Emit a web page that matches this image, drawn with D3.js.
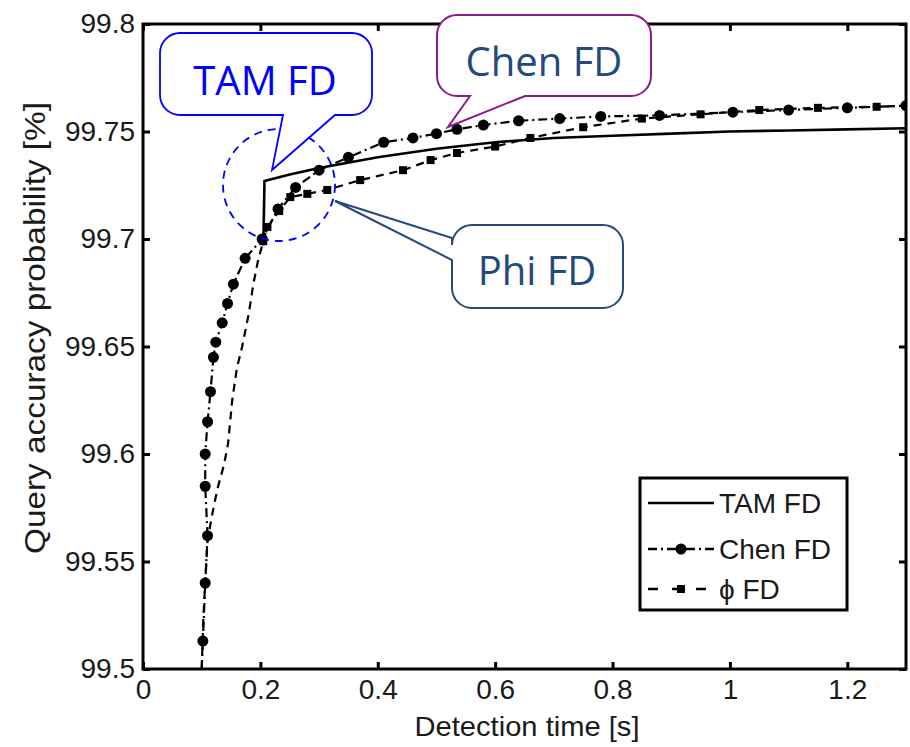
<!DOCTYPE html>
<html>
<head>
<meta charset="UTF-8">
<script src="https://d3js.org/d3.v7.min.js"></script>
<style>
    body { margin: 0; background: #fff; }
    svg text { font-family: "Liberation Sans", Arial, sans-serif; }
    .bubble text { font-family: "Open Sans", "DejaVu Sans", sans-serif; }
</style>
</head>
<body>
<svg id="chart" width="910" height="747"></svg>
<script>
// axis ticks
const xTicks = [0, 0.2, 0.4, 0.6, 0.8, 1, 1.2];
const yTicks = [99.5, 99.55, 99.6, 99.65, 99.7, 99.75, 99.8];

// [detection time s, query accuracy %]
const tamData = [
    [0.205, 99.697], [0.207, 99.727], [0.25, 99.730], [0.30, 99.733], [0.40, 99.738],
    [0.50, 99.742], [0.60, 99.745], [0.70, 99.747], [0.80, 99.748], [0.90, 99.749],
    [1.00, 99.750], [1.10, 99.7505], [1.20, 99.751], [1.30, 99.7515]
];
const chenData = [
    [0.100, 99.500], [0.102, 99.513], [0.106, 99.540], [0.110, 99.562], [0.106, 99.585],
    [0.106, 99.600], [0.110, 99.615], [0.115, 99.629], [0.120, 99.645], [0.124, 99.652],
    [0.135, 99.661], [0.144, 99.670], [0.154, 99.679], [0.174, 99.691], [0.203, 99.700],
    [0.230, 99.714], [0.260, 99.724], [0.300, 99.732], [0.350, 99.738], [0.410, 99.745],
    [0.460, 99.747], [0.500, 99.749], [0.535, 99.751], [0.580, 99.753], [0.640, 99.755],
    [0.710, 99.756], [0.780, 99.757], [0.880, 99.7575], [1.005, 99.759], [1.100, 99.760],
    [1.200, 99.761], [1.300, 99.762]
];
const phiData = [
    [0.100, 99.500], [0.103, 99.525], [0.110, 99.560], [0.118, 99.572], [0.127, 99.584],
    [0.138, 99.595], [0.145, 99.605], [0.152, 99.625], [0.160, 99.640], [0.169, 99.650],
    [0.180, 99.665], [0.188, 99.679], [0.196, 99.690], [0.205, 99.699], [0.212, 99.7056],
    [0.232, 99.713], [0.251, 99.7195], [0.280, 99.721], [0.314, 99.7228], [0.370, 99.7274],
    [0.443, 99.732], [0.490, 99.7367], [0.535, 99.740], [0.600, 99.743], [0.660, 99.747],
    [0.750, 99.752], [0.850, 99.756], [0.950, 99.758], [1.050, 99.760], [1.150, 99.761],
    [1.250, 99.7615], [1.300, 99.762]
];
const seriesNames = ["TAM FD", "Chen FD", "\u03d5 FD"];

const svg = d3.select('#chart');
const pLeft = 143, pRight = 906, pTop = 24, pBottom = 669;

const x = d3.scaleLinear().domain([0, 1.3]).range([pLeft, pRight]);
const y = d3.scaleLinear().domain([99.5, 99.8]).range([pBottom, pTop]);

svg.append('clipPath').attr('id', 'plotClip')
    .append('rect').attr('x', pLeft).attr('y', pTop)
    .attr('width', pRight - pLeft).attr('height', pBottom - pTop);

// axes, ticks pointing inward on all four sides
function styleAxis(g) {
    g.select('.domain').remove();
    g.selectAll('.tick line').attr('stroke', '#000').attr('stroke-width', 3);
    g.selectAll('.tick text').attr('font-size', 28).attr('fill', '#1a1a1a');
}
svg.append('g').attr('transform', 'translate(0,' + pBottom + ')')
    .call(d3.axisBottom(x).tickValues(xTicks).tickSize(-7).tickPadding(10).tickFormat(d3.format('')))
    .call(styleAxis);
svg.append('g').attr('transform', 'translate(0,' + pTop + ')')
    .call(d3.axisTop(x).tickValues(xTicks).tickSize(-7).tickFormat(''))
    .call(styleAxis);
svg.append('g').attr('transform', 'translate(' + pLeft + ',0)')
    .call(d3.axisLeft(y).tickValues(yTicks).tickSize(-7).tickPadding(8).tickFormat(d3.format('')))
    .call(styleAxis);
svg.append('g').attr('transform', 'translate(' + pRight + ',0)')
    .call(d3.axisRight(y).tickValues(yTicks).tickSize(-7).tickFormat(''))
    .call(styleAxis);

svg.append('rect')
    .attr('x', pLeft).attr('y', pTop)
    .attr('width', pRight - pLeft).attr('height', pBottom - pTop)
    .attr('fill', 'none').attr('stroke', '#000').attr('stroke-width', 3);

svg.append('text')
    .attr('x', 527).attr('y', 736)
    .attr('text-anchor', 'middle').attr('font-size', 28).attr('fill', '#1a1a1a')
    .attr('textLength', 225).attr('lengthAdjust', 'spacingAndGlyphs')
    .text('Detection time [s]');
svg.append('text')
    .attr('transform', 'translate(45,' + 328 + ') rotate(-90)')
    .attr('text-anchor', 'middle').attr('font-size', 29).attr('fill', '#1a1a1a')
    .attr('textLength', 452).attr('lengthAdjust', 'spacingAndGlyphs')
    .text('Query accuracy probability [%]');

// curves
const line = d3.line().x(d => x(d[0])).y(d => y(d[1]));
const plot = svg.append('g').attr('clip-path', 'url(#plotClip)');

plot.append('path').datum(tamData).attr('d', line)
    .attr('fill', 'none').attr('stroke', '#000').attr('stroke-width', 2.6);
plot.append('path').datum(chenData).attr('d', line)
    .attr('fill', 'none').attr('stroke', '#000').attr('stroke-width', 2.2)
    .attr('stroke-dasharray', '9,4,2,4');
plot.append('path').datum(phiData).attr('d', line)
    .attr('fill', 'none').attr('stroke', '#000').attr('stroke-width', 2.2)
    .attr('stroke-dasharray', '8,6');

plot.selectAll('.chenMark')
    .data(chenData.slice(1))
    .enter().append('circle')
    .attr('class', 'chenMark')
    .attr('cx', d => x(d[0])).attr('cy', d => y(d[1]))
    .attr('r', 5.5).attr('fill', '#000');
plot.selectAll('.phiMark')
    .data(phiData.filter(d => d[0] >= 0.2))
    .enter().append('rect')
    .attr('class', 'phiMark')
    .attr('x', d => x(d[0]) - 4).attr('y', d => y(d[1]) - 4)
    .attr('width', 8).attr('height', 8).attr('fill', '#000');

// legend
const lg = svg.append('g');
lg.append('rect').attr('x', 640).attr('y', 478).attr('width', 207).attr('height', 132)
    .attr('fill', '#fff').attr('stroke', '#000').attr('stroke-width', 3);
const legRows = [503, 549, 589];
const legDash = [null, '9,4,2,4', '10,14'];
seriesNames.forEach((name, i) => {
    lg.append('line')
        .attr('x1', 648).attr('x2', 714).attr('y1', legRows[i]).attr('y2', legRows[i])
        .attr('stroke', '#000').attr('stroke-width', 2.4)
        .attr('stroke-dasharray', legDash[i]);
    if (i === 1) {
        lg.append('circle').attr('cx', 681).attr('cy', legRows[i]).attr('r', 5.5).attr('fill', '#000');
    }
    if (i === 2) {
        lg.append('rect').attr('x', 677).attr('y', legRows[i] - 4).attr('width', 8).attr('height', 8).attr('fill', '#000');
    }
    lg.append('text')
        .attr('x', 719).attr('y', legRows[i] + 10)
        .attr('font-size', 28).attr('fill', '#1a1a1a')
        .text(name);
});

// callouts
function bubbleBottom(x0, y0, w, h, r, a, tip, b) {
    return `M${x0 + r},${y0} H${x0 + w - r} A${r},${r} 0 0 1 ${x0 + w},${y0 + r}
        V${y0 + h - r} A${r},${r} 0 0 1 ${x0 + w - r},${y0 + h} H${b}
        L${tip[0]},${tip[1]} L${a},${y0 + h} H${x0 + r}
        A${r},${r} 0 0 1 ${x0},${y0 + h - r} V${y0 + r} A${r},${r} 0 0 1 ${x0 + r},${y0} Z`;
}
function bubbleLeft(x0, y0, w, h, r, a, tip, b) {
    return `M${x0 + r},${y0} H${x0 + w - r} A${r},${r} 0 0 1 ${x0 + w},${y0 + r}
        V${y0 + h - r} A${r},${r} 0 0 1 ${x0 + w - r},${y0 + h} H${x0 + r}
        A${r},${r} 0 0 1 ${x0},${y0 + h - r} V${b} L${tip[0]},${tip[1]} L${x0},${a}
        V${y0 + r} A${r},${r} 0 0 1 ${x0 + r},${y0} Z`;
}

const bub = svg.append('g').attr('class', 'bubble');

bub.append('ellipse').attr('cx', 279).attr('cy', 185).attr('rx', 56).attr('ry', 56)
    .attr('fill', 'none').attr('stroke', '#0000ff').attr('stroke-width', 1.8)
    .attr('stroke-dasharray', '8,6');

bub.append('path').attr('d', bubbleBottom(160, 33, 212, 82, 20, 283, [272, 170], 335))
    .attr('fill', '#fff').attr('stroke', '#0000ff').attr('stroke-width', 1.8);
bub.append('text').attr('x', 265).attr('y', 95).attr('text-anchor', 'middle')
    .attr('font-size', 40).attr('fill', '#0000ff').text('TAM FD');

bub.append('path').attr('d', bubbleBottom(437, 15, 214, 81, 20, 470, [448, 127], 525))
    .attr('fill', '#fff').attr('stroke', '#8b1a8b').attr('stroke-width', 2);
bub.append('text').attr('x', 544).attr('y', 76).attr('text-anchor', 'middle')
    .attr('font-size', 40).attr('fill', '#24497a').text('Chen FD');

bub.append('path').attr('d', bubbleLeft(452, 225, 171, 83, 20, 238, [335, 201], 260))
    .attr('fill', '#fff').attr('stroke', '#24497a').attr('stroke-width', 2);
bub.append('text').attr('x', 537).attr('y', 285).attr('text-anchor', 'middle')
    .attr('font-size', 40).attr('fill', '#24497a').text('Phi FD');
</script>
</body>
</html>
